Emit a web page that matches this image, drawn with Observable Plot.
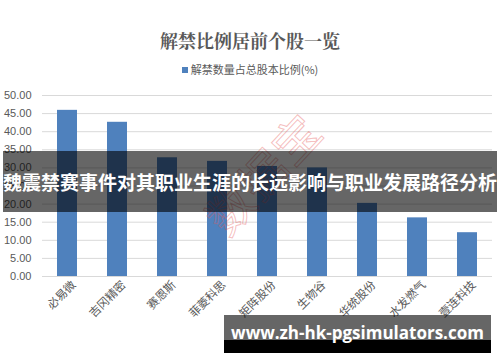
<!DOCTYPE html>
<html>
<head>
<meta charset="utf-8">
<script src="https://cdn.jsdelivr.net/npm/d3@7"></script>
<script src="https://cdn.jsdelivr.net/npm/@observablehq/plot@0.6"></script>
<style>
  html, body { margin: 0; padding: 0; background: #fff; }
  #wrap { position: relative; width: 500px; height: 362px; overflow: hidden; font-family: "Noto Sans CJK SC", sans-serif; }
  #title { height: 58px; box-sizing: border-box; padding-top: 29px; text-align: center; font-size: 18px; font-weight: bold; color: #595959; line-height: 22px; font-family: "Noto Serif CJK SC", "Noto Sans CJK SC", serif; }
  #legend { height: 22px; text-align: center; font-size: 11px; color: #595959; line-height: 22px; }
  #legend .sw { display: inline-block; width: 6px; height: 6px; background: #4f81bd; margin-right: 3px; vertical-align: 1px; }
  .band { position: absolute; background: rgba(0,0,0,0.6); color: #fff; font-weight: bold; text-align: center; white-space: nowrap; }
  #wm { position: absolute; left: 262px; top: 172px; transform: translate(-50%, -50%) rotate(-47deg); font-size: 46px; color: transparent; -webkit-text-stroke: 1px rgba(230,90,90,0.4); white-space: nowrap; letter-spacing: 2px; }
</style>
</head>
<body>
<div id="wrap">
  <div id="title"></div>
  <div id="legend"><span class="sw"></span><span id="legtext"></span></div>
  <div id="chart"></div>
  <div id="wm"></div>
  <div class="band" id="band1" style="left:3px; top:151px; width:494px; height:61px; font-size:19px; line-height:61px; font-family:'Noto Sans CJK SC', sans-serif;"></div>
  <div class="band" id="band2" style="left:224px; top:315px; width:267px; height:25px;"></div>
  <div class="band" style="left:224px; top:340px; width:267px; height:13px; background:#000;"></div>
  <div id="url" style="position:absolute; left:224px; width:267px; top:322px; text-align:center; color:#fff; font-weight:bold; font-size:17px; line-height:22px; font-family:'Open Sans', sans-serif; white-space:nowrap;"></div>
</div>
<script>
const title = "解禁比例居前个股一览";
const seriesName = "解禁数量占总股本比例(%)";
const categories = ["必易微", "吉冈精密", "赛恩斯", "菲菱科思", "矩阵股份", "生物谷", "华统股份", "水发燃气", "壹连科技"];
const values = [45.9, 42.6, 32.8, 31.8, 30.4, 30.0, 20.2, 16.2, 12.1];
const yTicks = [0, 5, 10, 15, 20, 25, 30, 35, 40, 45, 50];
const overlayText = "魏震禁赛事件对其职业生涯的长远影响与职业发展路径分析";
const urlText = "www.zh-hk-pgsimulators.com";
const watermark = "数据宝";

document.getElementById("title").textContent = title;
document.getElementById("legtext").textContent = seriesName;
document.getElementById("band1").textContent = overlayText;
document.getElementById("url").textContent = urlText;
document.getElementById("wm").textContent = watermark;

const data = categories.map((c, i) => ({category: c, value: values[i]}));

const chart = Plot.plot({
  width: 500,
  height: 282,
  marginTop: 15,
  marginBottom: 86,
  marginLeft: 42,
  marginRight: 8,
  style: {fontFamily: "'Liberation Sans', sans-serif", fontSize: "11px", color: "#595959", background: "transparent"},
  x: {domain: categories, paddingInner: 0.6, paddingOuter: 0.3, axis: null},
  y: {domain: [0, 50], ticks: yTicks, axis: null},
  marks: [
    Plot.gridY(yTicks, {stroke: "#d9d9d9", strokeOpacity: 1}),
    Plot.axisY(yTicks, {tickSize: 0, tickPadding: 11, tickFormat: d3.format(".2f"), fill: "#595959", fontSize: 11, label: null}),
    Plot.barY(data, {x: "category", y: "value", fill: "#4f81bd"}),
    Plot.ruleY([0], {stroke: "#d9d9d9"}),
    Plot.text(categories, {x: d => d, frameAnchor: "bottom", rotate: -45, textAnchor: "end", dx: 9, dy: 9, fill: "#595959", fontSize: 11.5, fontFamily: "'Noto Sans CJK SC', sans-serif"})
  ]
});
document.getElementById("chart").appendChild(chart);
</script>
</body>
</html>
